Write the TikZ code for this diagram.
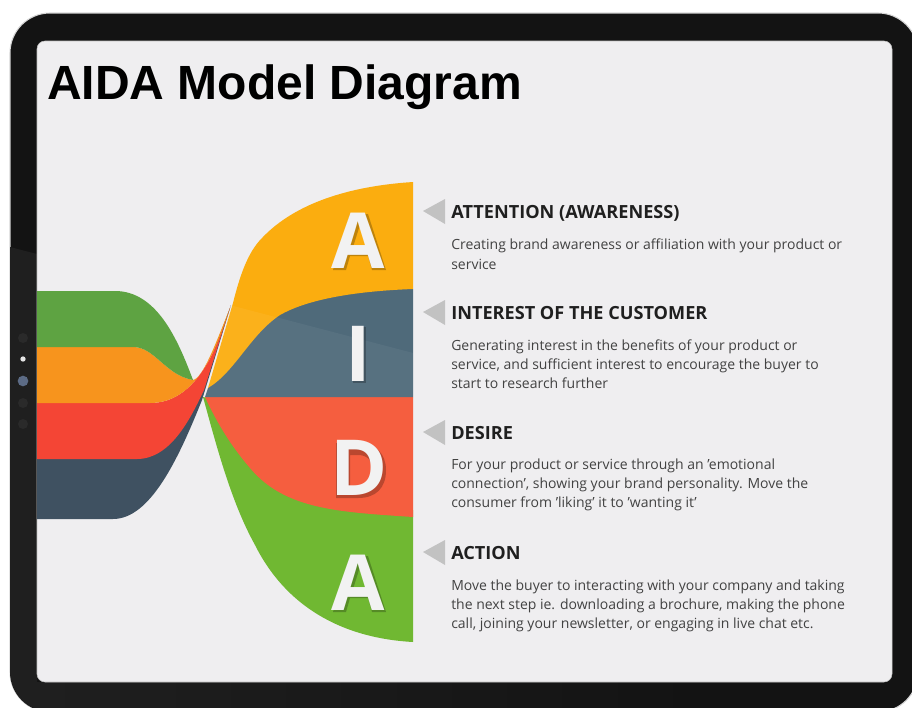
\documentclass[tikz,border=0pt]{standalone}
\usepackage{fontspec}
\setmainfont{Open Sans}
\newfontfamily\titlefont{Liberation Sans}
\definecolor{screenbg}{HTML}{EFEEF0}
\definecolor{bezel}{HTML}{131313}
\definecolor{bezellight}{HTML}{1F1F1F}
\definecolor{dotdark}{HTML}{2A2A2A}
\definecolor{dotblue}{HTML}{5C6B85}
\definecolor{gGreen}{HTML}{5EA342}
\definecolor{gOrange}{HTML}{F7941D}
\definecolor{gRed}{HTML}{F44535}
\definecolor{gDark}{HTML}{3F5161}
\definecolor{rYellow}{HTML}{FBAD0F}
\definecolor{rSlate}{HTML}{4F6A7A}
\definecolor{rRed}{HTML}{F55E3F}
\definecolor{rGreen}{HTML}{70B832}
\tikzset{
 headtext/.style={anchor=base west,inner sep=0pt,font=\fontsize{13.6}{15}\selectfont\bfseries,text=black!88},
 bodytext/.style={anchor=north west,inner sep=0pt,align=left,font=\fontsize{10.5}{14.2}\selectfont,text=black!74},
 bigletter/.style={inner sep=0pt,anchor=base,font=\fontsize{58}{60}\selectfont\bfseries,text=white!95!black},
 pointer/.style={fill=black!24,draw=none},
 dot/.style={circle,inner sep=0pt,minimum size=#1},
 lshadow/.style={fill=black,fill opacity=.24,draw=none,even odd rule}
}
\begin{document}
\begin{tikzpicture}[x=0.75pt,y=-0.75pt]
\useasboundingbox (0,0) rectangle (912,707);
\fill[white] (0,0) rectangle (912,707);
% tablet
\filldraw[fill=bezel,draw=black!16,line width=.8pt,rounded corners=30pt] (10,13) rectangle (918,712);
\begin{scope}
\clip[rounded corners=30pt] (10,13) rectangle (918,712);
\fill[bezellight] (10,247) -- (37,254) -- (37,712) -- (10,712) -- cycle;
\shade[left color=bezellight,right color=bezel] (37,682) rectangle (700,712);
\end{scope}
\node[dot=7.5pt,fill=dotdark] (d1) at (23,338) {};
\node[dot=4pt,fill=white!90!black] (d2) at (23,359) {};
\node[dot=8pt,fill=dotblue] (d3) at (23,381) {};
\node[dot=7.5pt,fill=dotdark] (d4) at (23,403) {};
\node[dot=7.5pt,fill=dotdark] (d5) at (23,424) {};
\filldraw[fill=screenbg,draw=black!25,line width=.4pt,rounded corners=6pt] (37,41) rectangle (892,682);
% right flows
\fill[rGreen] (203,397) .. controls (215,440) and (230,500) .. (255,545) .. controls (285,605) and (340,638) .. (413,642) -- (413,510) -- (300,420) -- cycle;
\fill[rRed] (205,397) -- (413,397) -- (413,517) .. controls (340,512) and (285,510) .. (250,468) .. controls (232,447) and (218,425) .. (205,397) -- cycle;
\fill[rSlate] (205,397) -- (208,388) -- (300,285) -- (413,289) -- (413,397) -- cycle;
\fill[rYellow] (208,388) -- (233,303) .. controls (240,275) and (248,252) .. (262,238) .. controls (295,203) and (350,186) .. (413,182) -- (413,289) .. controls (360,291) and (310,298) .. (280,315) .. controls (250,335) and (235,372) .. (208,388) -- cycle;
\begin{scope}
\clip (205,397) -- (208,388) -- (233,303) -- (262,238) -- (413,182) -- (413,397) -- cycle;
\fill[white,opacity=.05] (180,292) -- (413,353) -- (413,397) -- (180,397) -- cycle;
\end{scope}
% left flows
\fill[gDark] (37,459) -- (37,519) -- (113,519) .. controls (150,519) and (178,460) .. (202,400) -- (231,305) -- (203,380) -- (137,459) -- cycle;
\fill[gRed] (37,403) -- (37,459) -- (137,459) .. controls (170,459) and (190,420) .. (204,390) -- (230,308) .. controls (218,345) and (198,403) .. (150,403) -- cycle;
\fill[gOrange] (37,347) -- (133,347) .. controls (155,347) and (165,375) .. (193,380) .. controls (203,378) and (215,345) .. (230,308) .. controls (218,345) and (198,403) .. (150,403) -- (37,403) -- cycle;
\fill[gGreen] (37,291) -- (115,291) .. controls (157,291) and (178,340) .. (193,380) .. controls (165,375) and (155,347) .. (133,347) -- (37,347) -- cycle;
% letter shadows
\fill[lshadow] (333,270) -- (350,214) -- (368,214) -- (386,270) -- (372,270) -- (368,256) -- (350,256) -- (346,270) -- cycle (360,225) -- (353,247) -- (366,247) -- cycle;
\fill[lshadow] (352.5,327) rectangle (365.5,383);
\fill[lshadow] (336,443) -- (358,443) .. controls (376,443) and (386,454) .. (386,470) .. controls (386,488) and (376,498) .. (358,498) -- (336,498) -- cycle (350,455) -- (358,455) .. controls (368,455) and (372,461) .. (372,470) .. controls (372,480) and (367,486) .. (358,486) -- (350,486) -- cycle;
\fill[lshadow] (333,612) -- (350,556) -- (368,556) -- (386,612) -- (372,612) -- (368,598) -- (350,598) -- (346,612) -- cycle (360,567) -- (353,589) -- (366,589) -- cycle;
% letters
\node[bigletter] (la1) at (358,268) {A};
\node[bigletter] (li) at (358,381) {I};
\node[bigletter] (ld) at (359,495) {D};
\node[bigletter] (la2) at (358,610) {A};
% pointers
\fill[pointer] (423,211) -- (445,199) -- (445,224) -- cycle;
\fill[pointer] (423,312) -- (445,300) -- (445,325) -- cycle;
\fill[pointer] (423,432) -- (445,420) -- (445,445) -- cycle;
\fill[pointer] (423,552) -- (445,540) -- (445,565) -- cycle;
% text
\node[anchor=base west,inner sep=0pt,font=\titlefont\fontsize{36}{40}\selectfont\bfseries,text=black] (title) at (47,99) {AIDA Model Diagram};
\node[headtext] (h1) at (451,218) {ATTENTION (AWARENESS)};
\node[headtext] (h2) at (451,319) {INTEREST OF THE CUSTOMER};
\node[headtext] (h3) at (451,439) {DESIRE};
\node[headtext] (h4) at (451,559) {ACTION};
\node[bodytext] (b1) at (451,239) {Creating brand awareness or affiliation with your product or\\[.7pt]service};
\node[bodytext] (b2) at (451,340) {Generating interest in the benefits of your product or\\service, and sufficient interest to encourage the buyer to\\start to research further};
\node[bodytext] (b3) at (451,459) {For your product or service through an 'emotional\\connection', showing your brand personality. Move the\\consumer from 'liking' it to 'wanting it'};
\node[bodytext] (b4) at (451,580) {Move the buyer to interacting with your company and taking\\the next step ie. downloading a brochure, making the phone\\call, joining your newsletter, or engaging in live chat etc.};
\end{tikzpicture}
\end{document}
